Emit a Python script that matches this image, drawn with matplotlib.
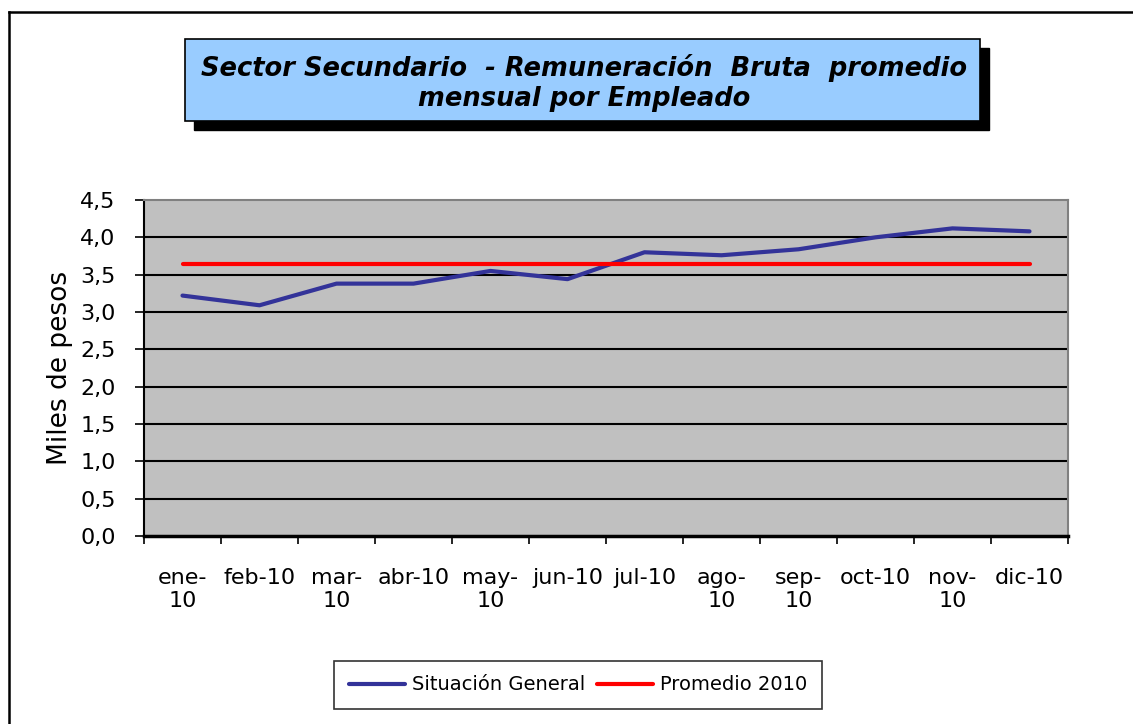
import matplotlib.pyplot as plt
from matplotlib.patches import Rectangle
from matplotlib.lines import Line2D

months = ["ene-\n10", "feb-10", "mar-\n10", "abr-10", "may-\n10", "jun-10",
          "jul-10", "ago-\n10", "sep-\n10", "oct-10", "nov-\n10", "dic-10"]
situacion = [3.22, 3.09, 3.38, 3.38, 3.55, 3.44, 3.80, 3.76, 3.84, 4.00, 4.12, 4.08]
promedio = [3.64] * 12
yticks = [0.0, 0.5, 1.0, 1.5, 2.0, 2.5, 3.0, 3.5, 4.0, 4.5]

W, H = 1133, 724
plt.rcParams['font.family'] = ['DejaVu Sans']
fig = plt.figure(figsize=(W / 100, H / 100), dpi=100)

# outer chart border (only left/top visible)
fig.add_artist(Line2D([9 / W, 9 / W], [0, 1 - 12 / H], transform=fig.transFigure, color='black', lw=1.8))
fig.add_artist(Line2D([9 / W, 1], [1 - 12 / H, 1 - 12 / H], transform=fig.transFigure, color='black', lw=1.8))

# title box with shadow
bx0, by0, bx1, by1 = 185, 39, 980, 121
fig.add_artist(Rectangle(((bx0 + 9) / W, 1 - (by1 + 9) / H), (bx1 - bx0) / W, (by1 - by0) / H,
                         transform=fig.transFigure, facecolor='black', edgecolor='black', lw=1))
fig.add_artist(Rectangle((bx0 / W, 1 - by1 / H), (bx1 - bx0) / W, (by1 - by0) / H,
                         transform=fig.transFigure, facecolor='#99CCFF', edgecolor='black', lw=1.2))
fig.text(584 / W, 1 - 83 / H, "Sector Secundario  - Remuneración  Bruta  promedio\nmensual por Empleado",
         ha='center', va='center', fontsize=18.5, fontweight='bold', fontstyle='italic',
         linespacing=1.25)

ax = fig.add_axes([144 / W, 1 - 536 / H, (1068 - 144) / W, (536 - 200) / H])
ax.set_facecolor('#C0C0C0')
x = list(range(len(months)))
ax.plot(x, situacion, color='#333399', lw=3, solid_capstyle='round', label='Situación General', zorder=3)
ax.plot(x, promedio, color='#FF0000', lw=3, solid_capstyle='round', label='Promedio 2010', zorder=3)

ax.set_xlim(-0.5, len(months) - 0.5)
ax.set_ylim(0, 4.5)
ax.set_yticks(yticks)
ax.set_yticklabels([f"{v:.1f}".replace('.', ',') for v in yticks], fontsize=16)
for v in yticks[1:-1]:
    ax.axhline(v, color='black', lw=1.5, zorder=1)

ax.set_xticks([i - 0.5 for i in range(len(months) + 1)])
ax.set_xticklabels([])
ax.set_xticks(x, minor=True)
ax.set_xticklabels(months, minor=True, fontsize=16, linespacing=1.2, va='top')
ax.tick_params(axis='x', which='minor', length=0, pad=23)
ax.tick_params(axis='x', which='major', length=6, width=1.2, direction='out')
ax.tick_params(axis='y', length=6.5, width=1.2, direction='out', pad=14)

ax.spines['left'].set_color('black')
ax.spines['left'].set_linewidth(1.5)
ax.spines['bottom'].set_color('black')
ax.spines['bottom'].set_linewidth(2.5)
ax.spines['top'].set_color('#808080')
ax.spines['top'].set_linewidth(1.5)
ax.spines['right'].set_color('#808080')
ax.spines['right'].set_linewidth(1.5)

ax.set_ylabel("Miles de pesos", fontsize=19)
ax.yaxis.set_label_coords((73 - 144) / (1068 - 144), 0.5)

leg = fig.legend(loc='center', bbox_to_anchor=(578 / W, 1 - 685 / H), ncol=2, fontsize=14,
                 frameon=True, fancybox=False, edgecolor='black', handlelength=2.9,
                 handletextpad=0.35, columnspacing=0.6, borderpad=0.75)
leg.get_frame().set_linewidth(1.2)

fig.savefig('out.png', dpi=100)
